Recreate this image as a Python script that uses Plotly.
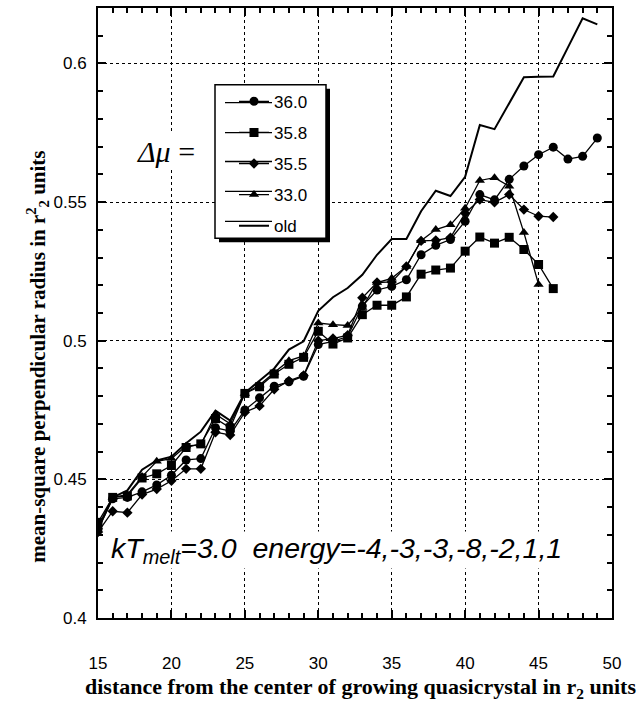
import plotly.graph_objects as go

# ---------------- data ----------------
dist_49 = [15, 16, 17, 18, 19, 20, 21, 22, 23, 24, 25, 26, 27, 28, 29, 30, 31, 32,
           33, 34, 35, 36, 37, 38, 39, 40, 41, 42, 43, 44, 45, 46, 47, 48, 49]
dist_46 = [15, 16, 17, 18, 19, 20, 21, 22, 23, 24, 25, 26, 27, 28, 29, 30, 31, 32,
           33, 34, 35, 36, 37, 38, 39, 40, 41, 42, 43, 44, 45, 46]
dist_45 = [15, 16, 17, 18, 19, 20, 21, 22, 23, 24, 25, 26, 27, 28, 29, 30, 31, 32,
           33, 34, 35, 36, 37, 38, 39, 40, 41, 42, 43, 44, 45]

mu_360 = [0.4320, 0.4430, 0.4435, 0.4455, 0.4480, 0.4515, 0.4570, 0.4575, 0.4686, 0.4674,
          0.4750, 0.4794, 0.4836, 0.4852, 0.4872, 0.4986, 0.4998, 0.5015, 0.5125, 0.5183,
          0.5196, 0.5220, 0.5310, 0.5344, 0.5365, 0.5431, 0.5527, 0.5508, 0.5582, 0.5630,
          0.5671, 0.5698, 0.5655, 0.5665, 0.5731]
mu_358 = [0.4345, 0.4435, 0.4440, 0.4505, 0.4520, 0.4550, 0.4615, 0.4628, 0.4719, 0.4686,
          0.4810, 0.4834, 0.4880, 0.4915, 0.4940, 0.5034, 0.4988, 0.5010, 0.5094, 0.5128,
          0.5128, 0.5158, 0.5240, 0.5255, 0.5262, 0.5323, 0.5374, 0.5352, 0.5373, 0.5329,
          0.5275, 0.5188]
mu_355 = [0.4310, 0.4385, 0.4380, 0.4445, 0.4465, 0.4495, 0.4538, 0.4538, 0.4670, 0.4660,
          0.4742, 0.4765, 0.4825, 0.4855, 0.4875, 0.5000, 0.5008, 0.5020, 0.5155, 0.5210,
          0.5212, 0.5268, 0.5360, 0.5362, 0.5372, 0.5460, 0.5509, 0.5499, 0.5527, 0.5473,
          0.5449, 0.5446]
mu_330 = [0.4330, 0.4435, 0.4445, 0.4510, 0.4565, 0.4575, 0.4620, 0.4625, 0.4735, 0.4700,
          0.4810, 0.4840, 0.4885, 0.4928, 0.4945, 0.5064, 0.5058, 0.5055, 0.5120, 0.5210,
          0.5225, 0.5268, 0.5361, 0.5401, 0.5418, 0.5478, 0.5578, 0.5588, 0.5557, 0.5390,
          0.5203]
old = [0.4320, 0.4435, 0.4460, 0.4535, 0.4568, 0.4582, 0.4630, 0.4672, 0.4748, 0.4712,
       0.4812, 0.4855, 0.4900, 0.4968, 0.4998, 0.5108, 0.5157, 0.5190, 0.5238, 0.5310,
       0.5367, 0.5367, 0.5467, 0.5541, 0.5522, 0.5591, 0.5778, 0.5763, 0.5856, 0.5950,
       0.5952, 0.5953, 0.6058, 0.6163, 0.6141]

series_names = ["36.0", "35.8", "35.5", "33.0", "old"]

# ---------------- layout helpers (pixel -> paper) ----------------
W, H = 639, 706
L, R, T, B = 98, 612, 6, 618


def px(x):
    return (x - L) / (R - L)


def py(y):
    return (B - y) / (B - T)


fig = go.Figure()

marker_series = [
    (dist_49, mu_360, series_names[0], "circle", 9),
    (dist_46, mu_358, series_names[1], "square", 9),
    (dist_46, mu_355, series_names[2], "diamond", 8),
    (dist_45, mu_330, series_names[3], "triangle-up", 9),
]
for xs, ys, name, sym, size in marker_series:
    fig.add_trace(go.Scatter(
        x=xs, y=ys, name=name, mode="lines+markers", legendgroup=name,
        line=dict(color="black", width=1.3),
        marker=dict(symbol=sym, size=size, color="black", line=dict(width=0)),
    ))
fig.add_trace(go.Scatter(
    x=dist_49, y=old, name=series_names[4], mode="lines", legendgroup="old",
    line=dict(color="black", width=2),
))

axis_common = dict(
    showgrid=True, gridcolor="black", gridwidth=1.4, griddash="dot",
    showline=True, linecolor="black", linewidth=2, mirror="ticks",
    ticks="inside", ticklen=8, tickwidth=1.5, tickcolor="black",
    zeroline=False, tickfont=dict(family="Arial", size=17, color="black"),
)

fig.update_xaxes(
    range=[15, 50], tick0=15, dtick=5, ticklabelstandoff=29,
    minor=dict(dtick=1, ticks="inside", ticklen=5, tickwidth=1.5,
               tickcolor="black", showgrid=False),
    **axis_common,
)
fig.update_yaxes(
    range=[0.4, 0.62], tick0=0.4, dtick=0.05, ticklabelstandoff=6,
    minor=dict(dtick=0.01, ticks="inside", ticklen=5, tickwidth=1.5,
               tickcolor="black", showgrid=False),
    **axis_common,
)

shapes = [
    # legend shadow and box
    dict(type="rect", xref="paper", yref="paper", layer="above",
         x0=px(219), x1=px(330), y0=py(241), y1=py(87),
         fillcolor="black", line=dict(width=0)),
    dict(type="rect", xref="paper", yref="paper", layer="above",
         x0=px(215), x1=px(326), y0=py(237), y1=py(83),
         fillcolor="white", line=dict(color="black", width=1.5)),
]
for ry in [101, 131, 160, 190, 220]:
    shapes.append(dict(type="line", xref="paper", yref="paper", layer="above",
                       x0=px(225), x1=px(272), y0=py(ry), y1=py(ry),
                       line=dict(color="black", width=1.3)))

serif = "Liberation Serif, Times New Roman, serif"
annotations = [
    dict(text="<i>Δμ</i> =", x=px(166), y=py(150), xref="paper", yref="paper",
         xanchor="center", yanchor="middle", showarrow=False, bgcolor="white",
         font=dict(family=serif, size=30, color="black")),
    dict(text="<i>kT<sub>melt</sub>=3.0\u00a0\u00a0energy=-4,-3,-3,-8,-2,1,1</i>",
         x=px(110), y=py(550), xref="paper", yref="paper", xanchor="left", yanchor="middle",
         showarrow=False, bgcolor="white", borderpad=0,
         font=dict(family="Arial", size=28.5, color="black")),
    dict(text="<b>distance from the center of growing quasicrystal in r<sub>2</sub> units</b>",
         x=px(360), y=py(688), xref="paper", yref="paper", xanchor="center", yanchor="middle",
         showarrow=False,
         font=dict(family=serif, size=22, color="black")),
    dict(text="<b>mean-square perpendicular radius in r<sup>2</sup><sub>2</sub> units</b>",
         x=px(38), y=py(356), xref="paper", yref="paper", xanchor="center", yanchor="middle",
         textangle=-90, showarrow=False,
         font=dict(family=serif, size=21, color="black")),
]

fig.update_layout(
    width=W, height=H,
    margin=dict(l=L, r=W - R, t=T, b=H - B),
    paper_bgcolor="white", plot_bgcolor="white",
    showlegend=True,
    legend=dict(x=px(234), y=py(82), xanchor="left", yanchor="top",
                bgcolor="rgba(0,0,0,0)", borderwidth=0,
                traceorder="grouped", tracegroupgap=6,
                font=dict(family="Arial", size=17, color="black")),
    shapes=shapes,
    annotations=annotations,
)

fig.write_html("out.html")
